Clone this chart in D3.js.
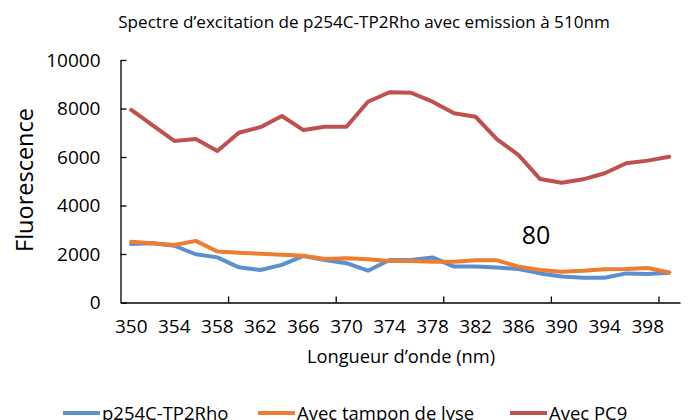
<!DOCTYPE html>
<html>
<head>
<meta charset="utf-8">
<script src="https://cdn.jsdelivr.net/npm/d3@7"></script>
<style>
  html, body { margin: 0; padding: 0; background: #fff; }
  svg { display: block; font-family: "Open Sans", Lato, sans-serif; }
</style>
</head>
<body>
<svg id="chart" width="690" height="420"></svg>
<script>
// Excitation wavelengths (nm), 2 nm steps
const wavelengths = [350,352,354,356,358,360,362,364,366,368,370,372,374,
                     376,378,380,382,384,386,388,390,392,394,396,398,400];

const p254C = [2410,2440,2340,1990,1860,1450,1340,1550,1920,1750,1620,1310,1750,
               1750,1860,1480,1480,1440,1380,1200,1070,1020,1020,1200,1180,1230];
const tamponLyse = [2510,2440,2370,2540,2100,2050,2010,1970,1930,1790,1820,1780,1710,
                    1710,1680,1680,1740,1740,1480,1340,1270,1310,1370,1380,1420,1240];
const pc9 = [7940,7300,6660,6740,6250,7000,7230,7690,7110,7250,7250,8280,8670,
             8650,8280,7800,7660,6730,6080,5090,4940,5080,5330,5740,5850,6010];

const yTicks = [0, 2000, 4000, 6000, 8000, 10000];
const seriesNames = ["p254C-TP2Rho", "Avec tampon de lyse", "Avec PC9"];
const seriesColors = ["#5B8FD0", "#ED7D31", "#C0504D"];
const seriesValues = [p254C, tamponLyse, pc9];

const FONT = "'Open Sans', Lato, sans-serif";
const svg = d3.select("#chart");
const plotLeft = 120.5, plotRight = 680, plotTop = 60, plotBottom = 302.5;

const x = d3.scaleBand().domain(wavelengths).range([plotLeft, plotRight]).paddingInner(0).paddingOuter(0);
const xc = d => x(d) + x.bandwidth() / 2;
// category boundary index -> pixel, for the tick marks
const xb = d3.scaleLinear().domain([0, wavelengths.length]).range([plotLeft, plotRight]);
const y = d3.scaleLinear().domain([0, 10000]).range([plotBottom, plotTop]);

// Title
svg.append("text")
  .attr("x", 364).attr("y", 28)
  .attr("text-anchor", "middle")
  .attr("font-size", 17.1).attr("fill", "#000")
  .text("Spectre d\u2019excitation de p254C-TP2Rho avec emission \u00e0 510nm");

// Y axis
const yAxis = svg.append("g")
  .attr("transform", `translate(${plotLeft},0)`)
  .call(d3.axisLeft(y).tickValues(yTicks).tickFormat(d3.format("d"))
    .tickSize(-6).tickSizeOuter(0).tickPadding(20));
yAxis.select(".domain").attr("stroke", "#000").attr("stroke-width", 1.3);
yAxis.selectAll(".tick line").attr("stroke", "#000").attr("stroke-width", 1.3);
yAxis.selectAll(".tick text").attr("font-size", 19).attr("fill", "#000")
  .attr("font-family", FONT);

// X axis labels (every second category)
const xAxis = svg.append("g")
  .attr("transform", `translate(0,${plotBottom})`)
  .call(d3.axisBottom(x)
    .tickValues(wavelengths.filter((d, i) => i % 2 === 0 && i < wavelengths.length - 1))
    .tickSize(0).tickPadding(17));
xAxis.select(".domain").attr("stroke", "#000").attr("stroke-width", 1.3);
xAxis.selectAll(".tick text").attr("font-size", 19).attr("fill", "#000")
  .attr("font-family", FONT);

// X tick marks on category boundaries, every 5 categories, pointing inward
const xMarks = svg.append("g")
  .attr("transform", `translate(0,${plotBottom})`)
  .call(d3.axisBottom(xb).tickValues([5, 10, 15, 20, 25]).tickSize(-6).tickFormat(""));
xMarks.select(".domain").remove();
xMarks.selectAll(".tick line").attr("stroke", "#000").attr("stroke-width", 1.3);

// Axis titles
svg.append("text")
  .attr("transform", "translate(33,180) rotate(-90)")
  .attr("text-anchor", "middle")
  .attr("font-size", 23.5).attr("fill", "#000")
  .text("Fluorescence");

svg.append("text")
  .attr("x", 401).attr("y", 363)
  .attr("text-anchor", "middle")
  .attr("font-size", 18.3).attr("fill", "#000")
  .text("Longueur d\u2019onde (nm)");

// Series lines
const line = d3.line().x((d, i) => xc(wavelengths[i])).y(d => y(d));
seriesValues.forEach((vals, k) => {
  svg.append("path")
    .datum(vals)
    .attr("fill", "none")
    .attr("stroke", seriesColors[k])
    .attr("stroke-width", 4)
    .attr("stroke-linejoin", "round")
    .attr("stroke-linecap", "round")
    .attr("d", line);
});

// Annotation
svg.append("text")
  .attr("x", 536).attr("y", 244)
  .attr("text-anchor", "middle")
  .attr("font-size", 25).attr("fill", "#000")
  .text("80");

// Legend
const legendX = [63, 258, 510];
seriesNames.forEach((name, k) => {
  const g = svg.append("g").attr("transform", `translate(${legendX[k]},413)`);
  g.append("line").attr("x1", 0).attr("x2", 37).attr("y1", 0).attr("y2", 0)
    .attr("stroke", seriesColors[k]).attr("stroke-width", 4);
  g.append("text").attr("x", 39).attr("y", 6.5)
    .attr("font-size", 18.5).attr("fill", "#000").text(name);
});
</script>
</body>
</html>
